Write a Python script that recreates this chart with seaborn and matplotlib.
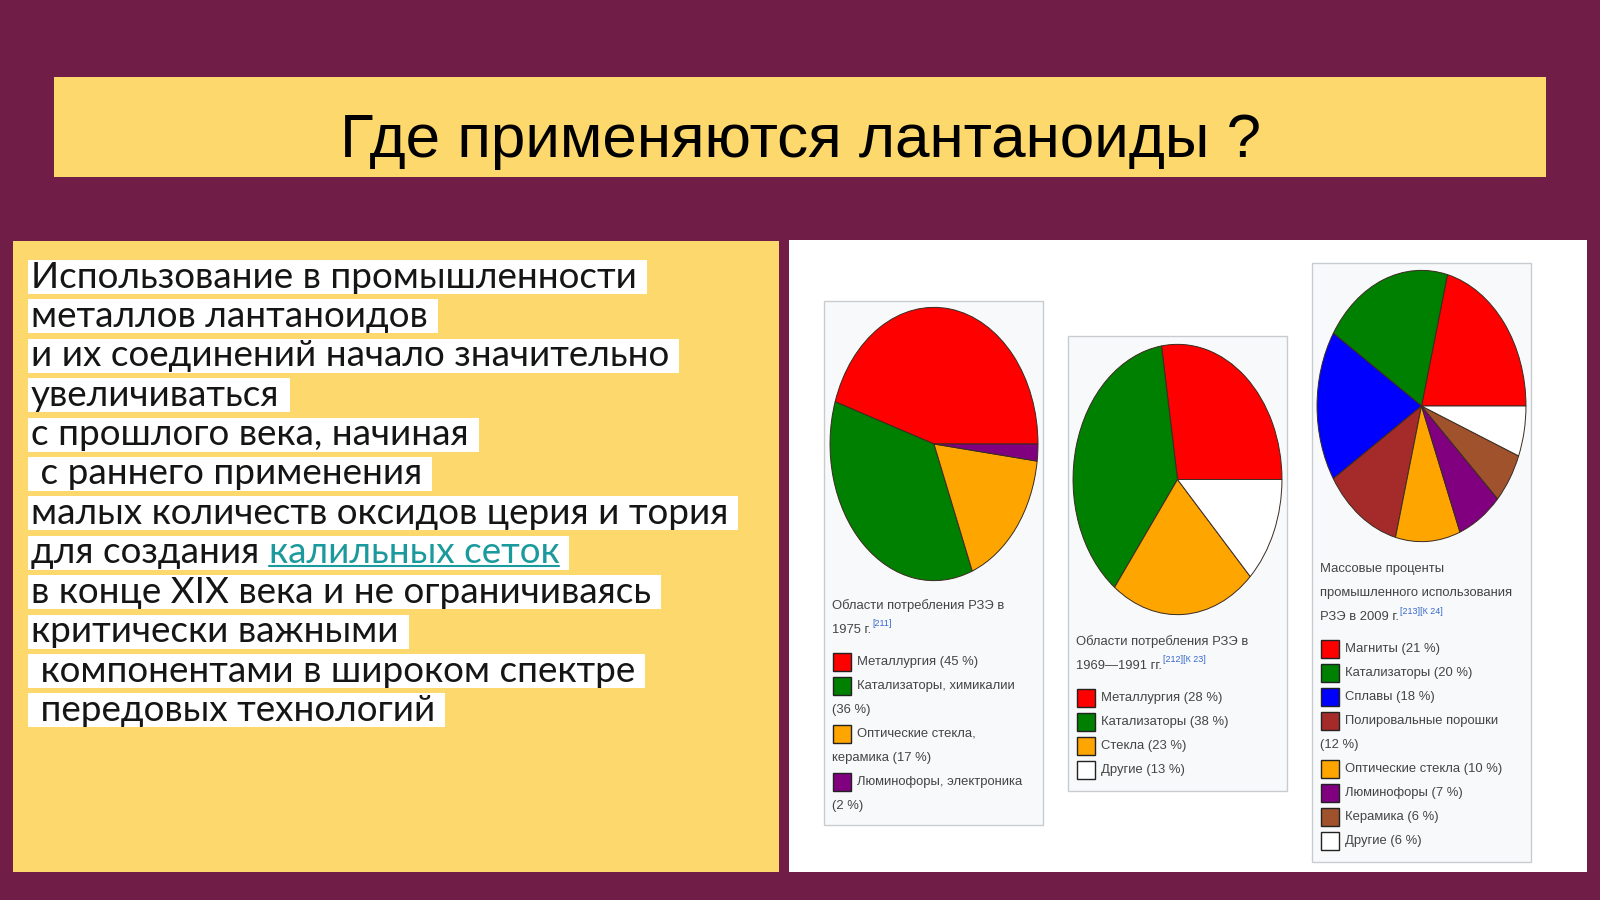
import numpy as np
import pandas as pd
import seaborn as sns
import matplotlib
matplotlib.use("Agg")
import matplotlib.pyplot as plt
from matplotlib.patches import Rectangle

# ---------------- data ----------------
TITLE = "Где применяются лантаноиды ?"
BODY_LINES = [
    "Использование в промышленности",
    "металлов лантаноидов",
    "и их соединений начало значительно",
    "увеличиваться",
    "с прошлого века, начиная",
    " с раннего применения",
    "малых количеств оксидов церия и тория",
    "для создания |калильных сеток",
    "в конце XIX века и не ограничиваясь",
    "критически важными",
    " компонентами в широком спектре",
    " передовых технологий",
]

pie1_values = [45, 36, 17, 2]
pie1_colors = ["#ff0000", "#008000", "#ffa500", "#800080"]
pie1_labels = ["Металлургия (45 %)", "Катализаторы, химикалии\n(36 %)",
               "Оптические стекла,\nкерамика (17 %)", "Люминофоры, электроника\n(2 %)"]
pie1_caption = ["Области потребления РЗЭ в", "1975 г."]
pie1_ref = "[211]"

pie2_values = [28, 38, 23, 13]
pie2_colors = ["#ff0000", "#008000", "#ffa500", "#ffffff"]
pie2_labels = ["Металлургия (28 %)", "Катализаторы (38 %)", "Стекла (23 %)", "Другие (13 %)"]
pie2_caption = ["Области потребления РЗЭ в", "1969—1991 гг."]
pie2_ref = "[212][К 23]"

pie3_values = [21, 20, 18, 12, 10, 7, 6, 6]
pie3_colors = ["#ff0000", "#008000", "#0000ff", "#a52a2a", "#ffa500", "#800080", "#a0522d", "#ffffff"]
pie3_labels = ["Магниты (21 %)", "Катализаторы (20 %)", "Сплавы (18 %)",
               "Полировальные порошки\n(12 %)", "Оптические стекла (10 %)",
               "Люминофоры (7 %)", "Керамика (6 %)", "Другие (6 %)"]
pie3_caption = ["Массовые проценты", "промышленного использования", "РЗЭ в 2009 г."]
pie3_ref = "[213][К 24]"

# ---------------- style ----------------
sns.set_theme(style="white")
plt.rcParams["font.family"] = ["Liberation Sans", "DejaVu Sans"]

BG = "#701d47"
YEL = "#fdd86c"
TXT = "#444444"
W, H = 1600, 900

fig = plt.figure(figsize=(16, 9), dpi=100)
fig.patch.set_facecolor(BG)
ov = fig.add_axes([0, 0, 1, 1])
ov.set_xlim(0, W)
ov.set_ylim(H, 0)
ov.axis("off")
renderer = fig.canvas.get_renderer()


def rect(x0, y0, x1, y1, fc, ec="none", lw=0, z=1):
    ov.add_patch(Rectangle((x0, y0), x1 - x0, y1 - y0, facecolor=fc,
                           edgecolor=ec, linewidth=lw, zorder=z))


def right_px(t):
    return t.get_window_extent(renderer).x1


def fit_size(text, target, fs0, **kw):
    p = ov.text(0, 0, text, fontsize=fs0, **kw)
    w = p.get_window_extent(renderer).width
    p.remove()
    return fs0 * target / w


# panels
rect(54, 77, 1546, 177, YEL)
rect(13, 241, 779, 872, YEL)
rect(789, 240, 1587, 872, "white")

# title
tfam = ["Liberation Sans", "DejaVu Sans"]
tfs = fit_size(TITLE, 923, 44, family=tfam)
ov.text(800, 157, TITLE, ha="center", va="baseline", fontsize=tfs,
        family=tfam, color="black", zorder=3)

# body text
body_font = ["Lato", "DejaVu Sans"]
fs = fit_size(max(BODY_LINES, key=len), 700, 24, family=body_font)
y0, step = 277, 39.4
for i, line in enumerate(BODY_LINES):
    yc = y0 + i * step
    kw = dict(ha="left", va="center", fontsize=fs, family=body_font, zorder=4)
    if "|" in line:
        pre, link = line.split("|")
        t1 = ov.text(31, yc, pre, color="#151515", **kw)
        x1 = right_px(t1)
        t2 = ov.text(x1, yc, link, color="#1a9a9c", **kw)
        x2 = right_px(t2)
        ov.plot([x1, x2], [yc + 13, yc + 13], color="#1a9a9c", lw=1.5, zorder=4)
        xr = x2
    else:
        t1 = ov.text(31, yc, line, color="#151515", **kw)
        xr = right_px(t1)
    rect(28, yc - 17, xr + 10, yc + 17, "white", z=2)

# caption font fitted to measured width of the first caption line
cfam = ["Liberation Sans Narrow", "Liberation Sans", "DejaVu Sans"]
cfs = fit_size("Области потребления РЗЭ в", 173, 10.5, family=cfam)

boxes = [
    dict(box=(824, 301, 1043, 825), pie=(829, 306, 1039, 582), cap_y=606,
         vals=pie1_values, cols=pie1_colors, labels=pie1_labels,
         cap=pie1_caption, ref=pie1_ref),
    dict(box=(1068, 336, 1287, 791), pie=(1072, 343, 1283, 616), cap_y=642,
         vals=pie2_values, cols=pie2_colors, labels=pie2_labels,
         cap=pie2_caption, ref=pie2_ref),
    dict(box=(1312, 263, 1531, 862), pie=(1316, 269, 1527, 543), cap_y=569,
         vals=pie3_values, cols=pie3_colors, labels=pie3_labels,
         cap=pie3_caption, ref=pie3_ref),
]
lstep = 24
for b in boxes:
    bx0, by0, bx1, by1 = b["box"]
    rect(bx0, by0, bx1, by1, "#f8f9fa", ec="#c8ccd1", lw=1, z=2)
    px0, py0, px1, py1 = b["pie"]
    ax = fig.add_axes([px0 / W, 1 - py1 / H, (px1 - px0) / W, (py1 - py0) / H])
    ax.pie(b["vals"], colors=b["cols"], startangle=0, counterclock=True,
           wedgeprops=dict(edgecolor="#3a2a20", linewidth=0.7))
    ax.set_aspect("auto")
    ax.set_xlim(-1.01, 1.01)
    ax.set_ylim(-1.01, 1.01)
    ax.axis("off")
    tkw = dict(ha="left", va="center", fontsize=cfs, family=cfam, color=TXT, zorder=4)
    y = b["cap_y"]
    for j, c in enumerate(b["cap"]):
        tc = ov.text(bx0 + 8, y, c, **tkw)
        if j == len(b["cap"]) - 1:
            ov.text(right_px(tc) + 1, y - 6, b["ref"], ha="left", va="center",
                    fontsize=cfs * 0.68, family=cfam, color="#3366cc", zorder=4)
        y += lstep
    y += 8
    for lab, col in zip(b["labels"], b["cols"]):
        parts = lab.split("\n")
        rect(bx0 + 9, y - 9, bx0 + 27, y + 9, col, ec="#222222", lw=1, z=4)
        ov.text(bx0 + 33, y, parts[0], **tkw)
        y += lstep
        for p in parts[1:]:
            ov.text(bx0 + 8, y, p, **tkw)
            y += lstep

fig.savefig("out.png", dpi=100, facecolor=fig.get_facecolor())
